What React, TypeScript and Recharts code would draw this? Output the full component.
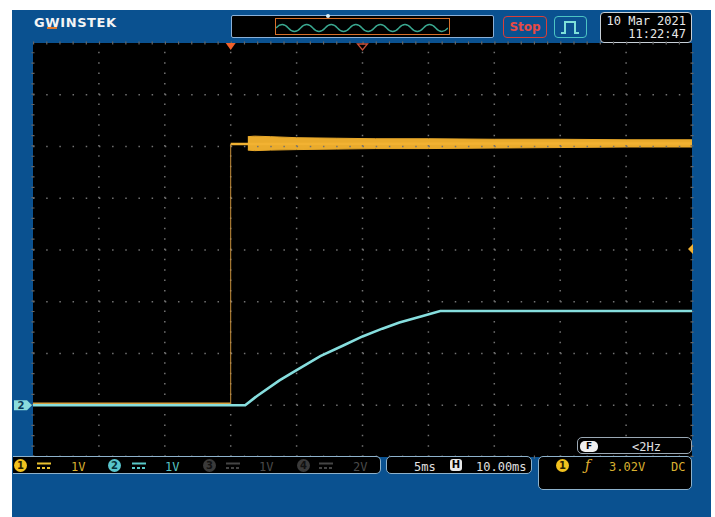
import React from 'react';
import {
  ComposedChart,
  Line,
  Area,
  XAxis,
  YAxis,
  ReferenceLine,
  ReferenceDot,
  ReferenceArea,
} from 'recharts';

// ---- data (time in ms, 5 ms/div; volts, 1 V/div) ----
const ch1PreTimes = [0, 15];
const ch1PreVolts = [0.03, 0.03];
const ch1PostTimes = [15, 16.3, 50];
const ch1PostVolts = [5.05, 5.05, 5.06];
const ch1BandTimes = [16.3, 16.8, 18, 20, 23, 26, 30, 35, 40, 45, 50];
const ch1BandHigh = [5.19, 5.2, 5.19, 5.17, 5.16, 5.15, 5.15, 5.14, 5.14, 5.13, 5.13];
const ch1BandLow = [4.93, 4.92, 4.93, 4.94, 4.95, 4.96, 4.96, 4.97, 4.98, 4.99, 4.99];
const ch2Times = [0, 16.1, 17, 18.7, 20, 21.8, 23.5, 25, 26.5, 27.8, 29.5, 30.9, 50];
const ch2Volts = [0, 0, 0.18, 0.48, 0.68, 0.95, 1.15, 1.33, 1.48, 1.6, 1.72, 1.82, 1.82];
const xGridTicks = [5, 10, 15, 20, 25, 30, 35, 40, 45];
const yGridTicks = [0, 1, 2, 3, 4, 5, 6];
const triggerTime = 15;
const centerTime = 25;
const triggerLevel = 3.02;

const ch1Pre = ch1PreTimes.map((t, i) => ({ t, v: ch1PreVolts[i] }));
const ch1Post = ch1PostTimes.map((t, i) => ({ t, v: ch1PostVolts[i] }));
const ch1Band = ch1BandTimes.map((t, i) => ({ t, band: [ch1BandLow[i], ch1BandHigh[i]] }));
const ch2Data = ch2Times.map((t, i) => ({ t, v: ch2Volts[i] }));

const ORANGE = '#f2b232';
const CYAN = '#86dede';
const BLUE = '#0a5190';
const MONO = '"DejaVu Sans Mono", "Liberation Mono", monospace';

const abs = (x: number, y: number, extra: React.CSSProperties = {}): React.CSSProperties => ({
  position: 'absolute',
  left: x,
  top: y,
  ...extra,
});

function Txt(props: { x: number; y: number; c: string; s?: number; b?: boolean; children: React.ReactNode }) {
  return (
    <div
      style={abs(props.x, props.y, {
        color: props.c,
        fontFamily: MONO,
        fontSize: props.s ?? 12,
        fontWeight: props.b ? 'bold' : 'normal',
        lineHeight: 1,
        whiteSpace: 'nowrap',
      })}
    >
      {props.children}
    </div>
  );
}

function Circ(props: { x: number; y: number; bg: string; fg: string; n: string }) {
  return (
    <div
      style={abs(props.x, props.y, {
        width: 13,
        height: 13,
        borderRadius: 7,
        background: props.bg,
        color: props.fg,
        fontFamily: 'DejaVu Sans',
        fontWeight: 'bold',
        fontSize: 10,
        lineHeight: '13px',
        textAlign: 'center',
      })}
    >
      {props.n}
    </div>
  );
}

function DcSym(props: { x: number; y: number; c: string }) {
  return (
    <svg style={abs(props.x, props.y)} width={14} height={8}>
      <line x1={0} y1={1.5} x2={14} y2={1.5} stroke={props.c} strokeWidth={2} />
      <line x1={0} y1={6} x2={14} y2={6} stroke={props.c} strokeWidth={2} strokeDasharray="3 2" />
    </svg>
  );
}

function sinePath() {
  let d = 'M 0 9';
  const w = 172;
  const n = 7;
  const p = w / n;
  for (let i = 0; i < n; i++) {
    const x0 = i * p;
    d += ` Q ${x0 + p / 4} 2 ${x0 + p / 2} 9 Q ${x0 + (3 * p) / 4} 16 ${x0 + p} 9`;
  }
  return d;
}

export default function App() {
  return (
    <div style={{ position: 'fixed', left: 0, top: 0, width: 715, height: 517, background: '#fff', overflow: 'hidden' }}>
      <div style={abs(12, 10, { width: 699, height: 507, background: BLUE })} />

      {/* header */}
      <div
        style={abs(34, 16, {
          color: '#f4f4f4',
          fontFamily: '"DejaVu Sans", sans-serif',
          fontWeight: 'bold',
          fontSize: 13,
          letterSpacing: 0.6,
          lineHeight: 1,
        })}
      >
        GWINSTEK
      </div>
      <div style={abs(47, 27, { width: 10, height: 2, background: '#e0782a' })} />

      <div style={abs(231, 15, { width: 261, height: 21, background: '#000', border: '1px solid #8ab0d8', borderRadius: 2 })} />
      <div style={abs(275, 18, { width: 173, height: 15, border: '1.5px solid #d8702a' })} />
      <svg style={abs(276, 19)} width={172} height={18}>
        <path d={sinePath()} fill="none" stroke="#3aa890" strokeWidth={1.4} />
      </svg>
      <div style={abs(326, 14, { width: 4, height: 4, borderRadius: 2, background: '#d8f0f8' })} />

      <div
        style={abs(503, 16, {
          width: 42,
          height: 20,
          border: '1.5px solid #d8403a',
          borderRadius: 4,
          color: '#e84a44',
          fontFamily: '"DejaVu Sans", sans-serif',
          fontWeight: 'bold',
          fontSize: 12,
          lineHeight: '20px',
          textAlign: 'center',
        })}
      >
        Stop
      </div>
      <div style={abs(554, 16, { width: 31, height: 20, border: '1.5px solid #4cc4c4', borderRadius: 4 })} />
      <svg style={abs(556, 18)} width={28} height={18}>
        <path d="M 5 15 L 9 15 L 9 4 L 19 4 L 19 15 L 23 15" fill="none" stroke="#7ee0d8" strokeWidth={2} />
      </svg>

      <div style={abs(600, 12, { width: 90, height: 29, background: '#000', border: '1.5px solid #c8d0d8', borderRadius: 4 })} />
      <div style={abs(600, 15, { width: 86, textAlign: 'right', color: '#e8e8e8', fontFamily: MONO, fontSize: 12, lineHeight: '13px' })}>
        10 Mar 2021
        <br />
        11:22:47
      </div>

      {/* screen */}
      <ComposedChart
        width={715}
        height={517}
        margin={{ top: 43, right: 23, bottom: 60, left: 33 }}
        style={{ position: 'absolute', left: 0, top: 0 }}
      >
        <XAxis type="number" dataKey="t" domain={[0, 50]} hide allowDataOverflow />
        <YAxis type="number" domain={[-1, 7]} hide allowDataOverflow />
        <ReferenceArea x1={0} x2={50} y1={-1} y2={7} fill="#000" fillOpacity={1} stroke="none" />
        {xGridTicks.map((x) => (
          <ReferenceLine key={'x' + x} x={x} stroke="#727272" strokeWidth={1.5} strokeDasharray="1.5 8.85" />
        ))}
        {yGridTicks.map((y) => (
          <ReferenceLine key={'y' + y} y={y} stroke="#727272" strokeWidth={1.5} strokeDasharray="1.5 11.68" />
        ))}
        <ReferenceLine y={7} stroke="#666" strokeWidth={3} strokeDasharray="1.2 11.98" />
        <ReferenceLine y={-1} stroke="#666" strokeWidth={3} strokeDasharray="1.2 11.98" />
        <ReferenceLine x={0} stroke="#666" strokeWidth={3} strokeDasharray="1.2 9.15" />
        <ReferenceLine x={50} stroke="#666" strokeWidth={3} strokeDasharray="1.2 9.15" />

        <Area
          data={ch1Band}
          dataKey="band"
          type="linear"
          stroke="#e8a82a"
          strokeWidth={1}
          fill="#eaab2c"
          fillOpacity={1}
          isAnimationActive={false}
        />
        <Line
          data={ch1Post}
          dataKey="v"
          type="linear"
          stroke={ORANGE}
          strokeWidth={2.5}
          dot={false}
          isAnimationActive={false}
        />
        <Line
          data={ch1Pre}
          dataKey="v"
          type="linear"
          stroke="#d8a040"
          strokeWidth={2.4}
          dot={false}
          isAnimationActive={false}
        />
        <ReferenceLine
          segment={[
            { x: triggerTime, y: 0 },
            { x: triggerTime, y: 5.05 },
          ]}
          stroke="#c8903c"
          strokeWidth={1}
        />
        <Line
          data={ch2Data}
          dataKey="v"
          type="linear"
          stroke={CYAN}
          strokeWidth={2.6}
          strokeDasharray="0"
          dot={false}
          isAnimationActive={false}
        />

        <ReferenceDot
          x={triggerTime}
          y={7}
          r={5}
          shape={(p: any) => (
            <path d={`M ${p.cx - 5} ${p.cy} L ${p.cx + 5} ${p.cy} L ${p.cx} ${p.cy + 7} Z`} fill="#f0602a" />
          )}
        />
        <ReferenceDot
          x={centerTime}
          y={7}
          r={5}
          shape={(p: any) => (
            <path
              d={`M ${p.cx - 5} ${p.cy + 1} L ${p.cx + 5} ${p.cy + 1} L ${p.cx} ${p.cy + 7} Z`}
              fill="none"
              stroke="#c8503a"
              strokeWidth={1.3}
            />
          )}
        />
        <ReferenceDot
          x={50}
          y={triggerLevel}
          r={5}
          shape={(p: any) => (
            <path d={`M ${p.cx + 1} ${p.cy - 5} L ${p.cx - 4} ${p.cy} L ${p.cx + 1} ${p.cy + 5} Z`} fill={ORANGE} />
          )}
        />
        <ReferenceDot
          x={0}
          y={0}
          r={5}
          shape={(p: any) => (
            <g>
              <path
                d={`M ${p.cx - 19} ${p.cy - 5} L ${p.cx - 6} ${p.cy - 5} L ${p.cx - 1} ${p.cy} L ${p.cx - 6} ${p.cy + 5} L ${p.cx - 19} ${p.cy + 5} Z`}
                fill="#8adcdc"
              />
              <text x={p.cx - 12} y={p.cy + 4} fontSize={10} fontWeight="bold" fontFamily="DejaVu Sans" fill="#0a3a5a" textAnchor="middle">
                2
              </text>
            </g>
          )}
        />
      </ComposedChart>

      {/* bottom status bar */}
      <div
        style={abs(13, 456, {
          width: 367,
          height: 16,
          background: '#000',
          borderTop: '1.5px solid #8eb2cc',
          borderBottom: '1.5px solid #8eb2cc',
          borderRight: '1.5px solid #8eb2cc',
          borderRadius: '0 5px 5px 0',
        })}
      />
      <Circ x={14} y={459} bg="#f2c21e" fg="#2a2000" n="1" />
      <DcSym x={37} y={462} c="#e8c030" />
      <Txt x={71} y={461} c="#d8b030">1V</Txt>
      <Circ x={108} y={459} bg="#58c4cc" fg="#06303a" n="2" />
      <DcSym x={132} y={462} c="#58c8c8" />
      <Txt x={165} y={461} c="#58c4c4">1V</Txt>
      <Circ x={203} y={459} bg="#3a3a3a" fg="#111" n="3" />
      <DcSym x={226} y={462} c="#444" />
      <Txt x={259} y={461} c="#4a4a4a">1V</Txt>
      <Circ x={297} y={459} bg="#3a3a3a" fg="#111" n="4" />
      <DcSym x={319} y={462} c="#444" />
      <Txt x={353} y={461} c="#4a4a4a">2V</Txt>

      <div style={abs(386, 456, { width: 144, height: 16, background: '#000', border: '1.5px solid #8eb2cc', borderRadius: 5 })} />
      <Txt x={414} y={461} c="#e0e0e0">5ms</Txt>
      <div
        style={abs(450, 459, {
          width: 12,
          height: 12,
          background: '#e8e8e8',
          borderRadius: 3,
          color: '#000',
          fontFamily: 'DejaVu Sans',
          fontWeight: 'bold',
          fontSize: 10,
          lineHeight: '12px',
          textAlign: 'center',
        })}
      >
        H
      </div>
      <Txt x={476} y={461} c="#e0e0e0">10.00ms</Txt>

      <div style={abs(538, 456, { width: 152, height: 32, background: '#000', border: '1.5px solid #8eb2cc', borderRadius: 5 })} />
      <Circ x={556} y={459} bg="#f2c21e" fg="#2a2000" n="1" />
      <div style={abs(585, 458, { color: '#e0b030', fontFamily: 'DejaVu Serif', fontStyle: 'italic', fontSize: 14, lineHeight: 1 })}>ƒ</div>
      <Txt x={609} y={461} c="#d8b030">3.02V</Txt>
      <Txt x={671} y={461} c="#d8b030">DC</Txt>

      <div style={abs(577, 437, { width: 113, height: 15, background: '#000', border: '1.5px solid #9aa8b4', borderRadius: 5 })} />
      <div
        style={abs(580, 441, {
          width: 18,
          height: 11,
          background: '#f0f0f0',
          borderRadius: 5,
          color: '#000',
          fontFamily: 'DejaVu Sans',
          fontWeight: 'bold',
          fontSize: 9,
          lineHeight: '11px',
          textAlign: 'center',
        })}
      >
        F
      </div>
      <Txt x={632} y={441} c="#e0e0e0">&lt;2Hz</Txt>
    </div>
  );
}
